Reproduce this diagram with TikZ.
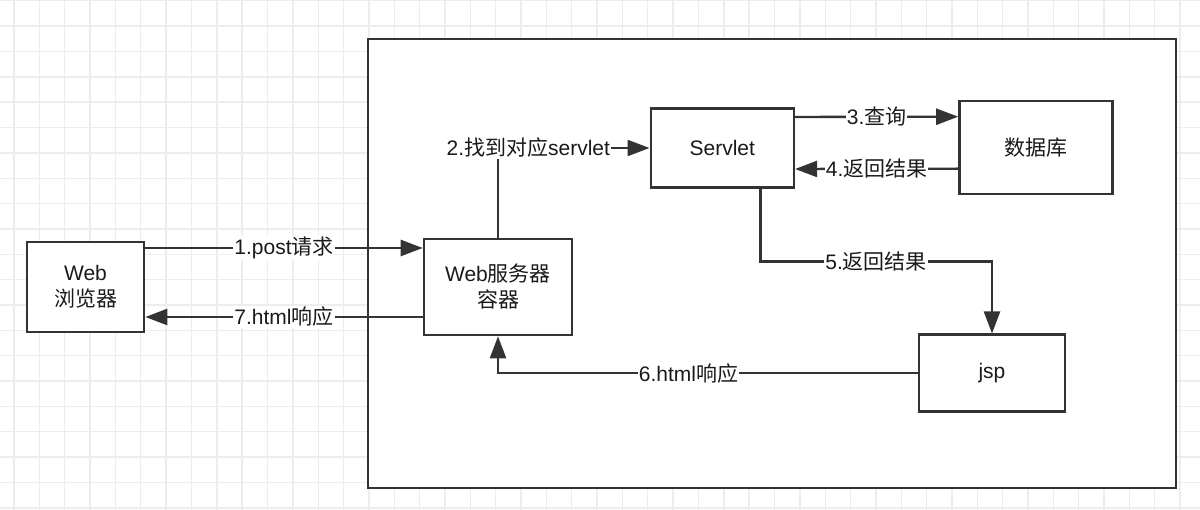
\documentclass[tikz,border=0pt]{standalone}
\usepackage{fontspec}
\setmainfont{Liberation Sans}
\newfontfamily\cjk{Noto Sans CJK SC}
\usepackage{tikz}
\usetikzlibrary{arrows.meta}
\usepackage{xcolor}
\definecolor{inkline}{HTML}{333333}
\definecolor{inktext}{HTML}{1A1A1A}
\definecolor{gridgray}{HTML}{EDEDED}
\newcommand{\zh}[1]{{\cjk #1}}

\begin{document}
\begin{tikzpicture}[x=1pt,y=-1pt,
  box/.style={draw=inkline, line width=2.6pt, fill=white, text=inktext,
    align=center, font=\fontsize{21}{26}\selectfont},
  flow/.style={draw=inkline, line width=2.4pt,
    -{Triangle[length=22pt,width=16pt]}},
  lbl/.style={fill=white, text=inktext, inner sep=1pt,
    font=\fontsize{21}{26}\selectfont},
  bggrid/.style={draw=gridgray, line width=1.4pt}]
\useasboundingbox (0,0) rectangle (1200,510);
\fill[white] (0,0) rectangle (1200,510);
% background grid
\begin{scope}[y=1pt,shift={(14pt,-0.8pt)}]
\draw[bggrid, step=25.35pt] (-14pt,-512pt) grid (1190pt,2pt);
\end{scope}
% container
\node[box, minimum width=808pt, minimum height=449pt] (container) at (772,263.5) {};
% boxes
\node[box, minimum width=117pt, minimum height=90pt] (browser) at (85.5,287) {Web\\\zh{浏览器}};
\node[box, minimum width=148pt, minimum height=96pt] (server) at (498,287) {Web\zh{服务器}\\\zh{容器}};
\node[box, minimum width=143pt, minimum height=79pt] (servlet) at (722.3,148) {Servlet};
\node[box, minimum width=153pt, minimum height=93pt] (db) at (1036,147.7) {\zh{数据库}};
\node[box, minimum width=146pt, minimum height=77pt] (jsp) at (992,373.3) {jsp};
% connectors
\draw[flow] ([yshift=39pt]browser.east) -- node[lbl]{1.post\zh{请求}} ([yshift=39pt]server.west);
\draw[flow] (server.north) |- node[lbl, pos=0.6]{2.\zh{找到对应}servlet} (servlet.west);
\draw[flow] ([yshift=31pt]servlet.east) -- node[lbl]{3.\zh{查询}} ([yshift=31pt]db.west);
\draw[flow] ([yshift=-21pt]db.west) -- node[lbl]{4.\zh{返回结果}} ([yshift=-21pt]servlet.east);
\draw[flow] ([xshift=38pt]servlet.south) |- node[lbl, pos=0.75]{5.\zh{返回结果}} ([yshift=72pt]jsp.north) -- (jsp.north);
\draw[flow] (jsp.west) -| node[lbl, pos=0.273]{6.html\zh{响应}} (server.south);
\draw[flow] ([yshift=-30pt]server.west) -- node[lbl]{7.html\zh{响应}} ([yshift=-30pt]browser.east);
\end{tikzpicture}
\end{document}
